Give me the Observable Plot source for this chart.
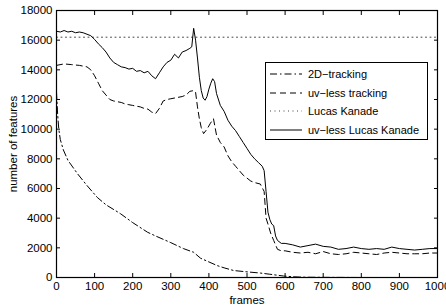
<!DOCTYPE html>
<html>
<head>
<meta charset="utf-8">
<script src="https://cdn.jsdelivr.net/npm/d3@7"></script>
<script src="https://cdn.jsdelivr.net/npm/@observablehq/plot@0.6"></script>
<style>
  html, body { margin: 0; padding: 0; background: #fff; }
  #wrap { position: relative; width: 446px; height: 308px; font-family: "Liberation Sans", Arial, sans-serif; }
  #legend { position: absolute; left: 265px; top: 62px; width: 163px; height: 78px; border: 1px solid #000; background: #fff; box-sizing: border-box; font-size: 11px; }
  .row { position: absolute; left: 0; height: 18px; display: flex; align-items: center; white-space: nowrap; }
  .row svg { margin-left: 4px; margin-right: 6px; }
</style>
</head>
<body>
<div id="wrap"></div>
<script>
// ---- data ----
const xTicks = [0, 100, 200, 300, 400, 500, 600, 700, 800, 900, 1000];
const yTicks = [0, 2000, 4000, 6000, 8000, 10000, 12000, 14000, 16000, 18000];

const seriesNames = ["2D\u2212tracking", "uv\u2212less tracking", "Lucas Kanade", "uv\u2212less Lucas Kanade"];

const tracking2dX = [0, 3, 6, 10, 18, 30, 55, 80, 107, 130, 168, 200, 239, 260, 300, 333, 360, 378, 400, 422, 440, 465, 500, 535, 560, 596, 620, 650, 700, 800, 900, 1000];
const tracking2dY = [12500, 11000, 10000, 9300, 8600, 7900, 7000, 6200, 5400, 4900, 4300, 3700, 3050, 2800, 2350, 1950, 1700, 1300, 1050, 800, 650, 470, 380, 300, 220, 100, 50, 20, 10, 0, 0, 0];

const uvTrackX = [0, 20, 40, 60, 80, 90, 100, 110, 120, 130, 140, 150, 160, 170, 180, 190, 200, 210, 220, 230, 240, 250, 260, 270, 280, 290, 300, 310, 320, 330, 340, 350, 360, 365, 370, 375, 380, 386, 395, 404, 412, 420, 430, 440, 450, 460, 470, 480, 490, 500, 510, 520, 535, 545, 550, 555, 562, 570, 580, 590, 600, 620, 640, 660, 680, 700, 720, 740, 760, 780, 800, 820, 840, 860, 880, 900, 920, 940, 960, 980, 1000];
const uvTrackY = [14300, 14400, 14350, 14300, 14200, 14000, 13600, 13100, 12600, 12300, 12000, 11900, 11850, 11800, 11700, 11650, 11600, 11550, 11500, 11400, 11350, 11150, 11050, 11400, 11900, 12000, 12050, 12100, 12150, 12200, 12300, 12550, 12600, 12500, 11500, 10700, 10100, 9700, 10000, 10400, 10700, 9600, 9100, 8800, 8200, 7800, 7500, 7200, 6900, 6700, 6500, 6400, 6300, 5800, 4000, 3600, 3000, 2500, 1900, 1800, 1800, 1700, 1650, 1700, 1600, 1750, 1600, 1550, 1600, 1700, 1650, 1600, 1550, 1650, 1700, 1650, 1600, 1600, 1600, 1650, 1650];

const lucasX = [0, 1000];
const lucasY = [16200, 16200];

const uvLucasX = [0, 10, 20, 30, 40, 50, 60, 70, 80, 90, 100, 110, 120, 130, 140, 150, 160, 170, 180, 190, 200, 210, 220, 230, 240, 250, 260, 270, 280, 290, 300, 310, 320, 330, 340, 350, 355, 360, 365, 370, 375, 380, 385, 390, 395, 400, 405, 410, 415, 420, 430, 440, 450, 460, 470, 480, 490, 500, 510, 520, 530, 540, 545, 550, 555, 560, 565, 570, 575, 580, 590, 600, 620, 640, 660, 680, 700, 720, 740, 760, 780, 800, 820, 840, 860, 880, 900, 920, 940, 960, 980, 1000];
const uvLucasY = [16600, 16550, 16650, 16550, 16600, 16500, 16550, 16500, 16400, 16300, 16050, 15750, 15500, 15200, 14800, 14500, 14350, 14200, 14150, 14050, 14100, 13900, 13950, 13800, 13900, 13600, 13400, 13800, 14200, 14500, 14650, 15050, 14800, 15200, 15300, 15450, 15550, 16800, 16000, 14800, 13500, 12600, 12100, 11950, 12200, 12700, 13100, 13400, 13200, 12400, 11600, 11200, 10600, 10200, 9900, 9500, 9100, 8700, 8300, 8000, 7750, 7500, 7200, 5800, 4400, 3900, 3600, 3500, 2800, 2500, 2300, 2300, 2200, 2050, 2150, 2250, 2100, 2050, 1900, 1950, 2050, 1950, 1900, 1950, 1900, 2050, 1950, 1900, 1850, 1900, 1950, 1950];

// ---- build ----
const toRows = (xs, ys) => xs.map((x, i) => ({x, y: ys[i]}));
const styles = [
  {dash: "7,3,1.5,3", stroke: "#000"},
  {dash: "6,4", stroke: "#000"},
  {dash: "1,3.5", stroke: "#444"},
  {dash: null, stroke: "#000"}
];
const data = [toRows(tracking2dX, tracking2dY), toRows(uvTrackX, uvTrackY), toRows(lucasX, lucasY), toRows(uvLucasX, uvLucasY)];

const chart = Plot.plot({
  width: 446,
  height: 308,
  marginLeft: 56,
  marginRight: 9,
  marginTop: 10,
  marginBottom: 31,
  style: {fontFamily: "Liberation Sans, Arial, sans-serif", fontSize: "11.5px", color: "#000", background: "#fff"},
  x: {domain: [0, 1000]},
  y: {domain: [0, 18000]},
  marks: [
    ...data.map((d, i) => Plot.line(d, {x: "x", y: "y", stroke: styles[i].stroke, strokeWidth: 1, strokeDasharray: styles[i].dash})),
    Plot.frame({stroke: "#000", strokeWidth: 1.2}),
    Plot.axisX({ticks: xTicks, tickSize: -4, tickPadding: 8, tickFormat: d => String(d), label: "frames", labelAnchor: "center", labelArrow: "none", labelOffset: 26}),
    Plot.axisX({anchor: "top", ticks: xTicks, tickSize: -4, tickFormat: () => "", label: null}),
    Plot.axisY({ticks: yTicks, tickSize: -4, tickPadding: 8, tickFormat: d => String(d), label: "number of features", labelAnchor: "center", labelArrow: "none", labelOffset: 48}),
    Plot.axisY({anchor: "right", ticks: yTicks, tickSize: -4, tickFormat: () => "", label: null})
  ]
});

const wrap = document.getElementById("wrap");
wrap.appendChild(chart);

const legend = document.createElement("div");
legend.id = "legend";
seriesNames.forEach((name, i) => {
  const row = document.createElement("div");
  row.className = "row";
  row.style.top = (2 + i * 18.5) + "px";
  const dash = styles[i].dash ? `stroke-dasharray="${styles[i].dash}"` : "";
  row.innerHTML = `<svg width="32" height="10"><line x1="0" y1="5" x2="32" y2="5" stroke="${styles[i].stroke}" stroke-width="1" ${dash}/></svg><span>${name}</span>`;
  legend.appendChild(row);
});
wrap.appendChild(legend);
</script>
</body>
</html>
